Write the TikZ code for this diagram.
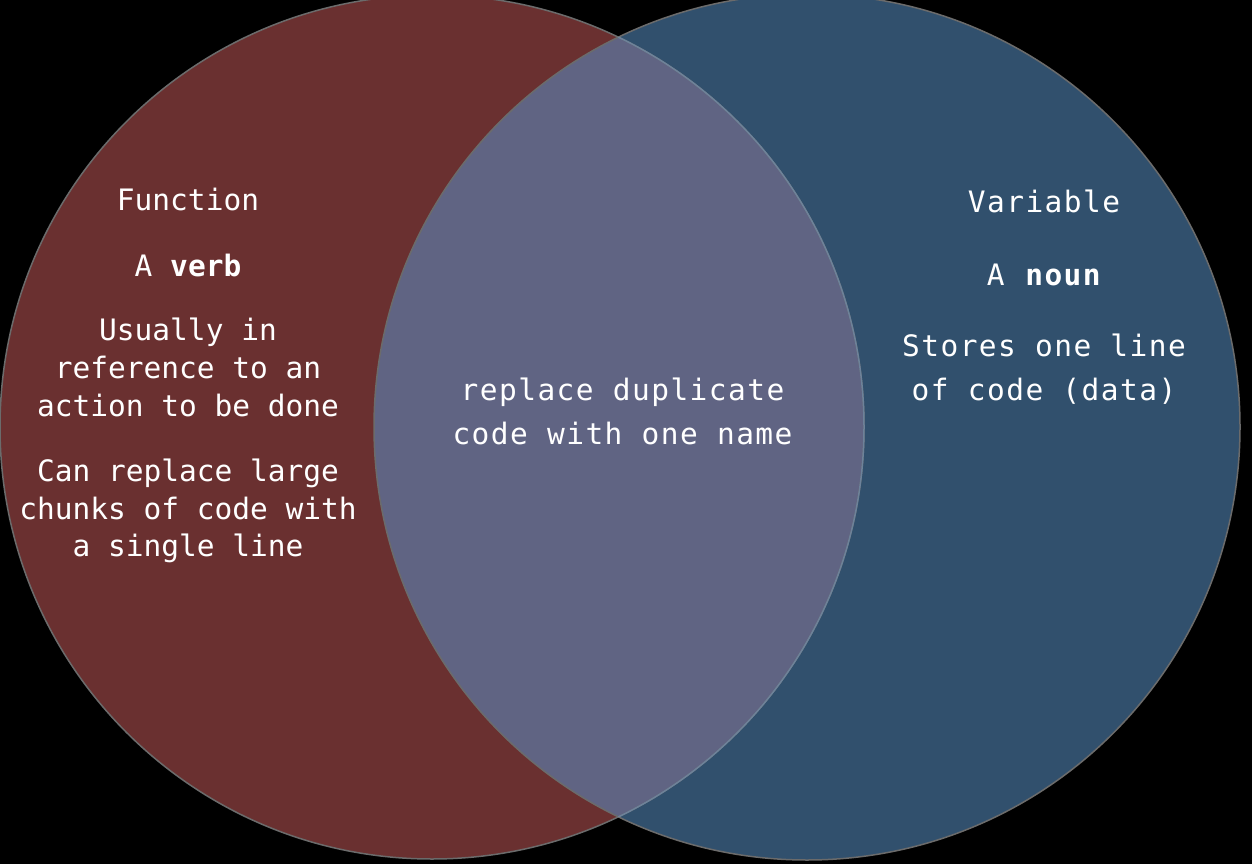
\documentclass[tikz,border=0pt]{standalone}
\usepackage{fontspec}
\newfontfamily\leftmono{DejaVu Sans Mono}
\newfontfamily\rightmono[LetterSpace=4.9]{DejaVu Sans Mono}
\definecolor{redfill}{HTML}{6A3030}
\definecolor{bluefill}{HTML}{31506D}
\definecolor{overlapfill}{HTML}{606483}
\definecolor{rimgray}{HTML}{6B6B6B}
\definecolor{rimblue}{HTML}{6E8CAE}
\begin{document}
\begin{tikzpicture}[x=1pt,y=-1pt,
  lefttext/.style={text=white,inner sep=0pt,anchor=base,align=center,
    font=\leftmono\fontsize{29.5}{37.7}\selectfont},
  righttext/.style={text=white,inner sep=0pt,anchor=base,align=center,
    font=\rightmono\fontsize{29.5}{44}\selectfont},
  midtext/.style={text=white,inner sep=0pt,anchor=base,align=center,
    font=\rightmono\fontsize{29.5}{43.3}\selectfont},
  rim/.style={line width=1.5pt}]
\fill[black] (0,0) rectangle (1252,864);
\useasboundingbox (0,0) rectangle (1252,864);
% circles
\coordinate (lc) at (432,427);
\coordinate (rc) at (807,427);
\fill[redfill] (lc) circle[radius=432pt];
\fill[bluefill] (rc) circle[radius=433pt];
\begin{scope}
  \clip (lc) circle[radius=432pt];
  \fill[overlapfill] (rc) circle[radius=433pt];
\end{scope}
\draw[rim,rimgray] (lc) circle[radius=432pt];
\draw[rim,rimgray] (rc) circle[radius=433pt];
\begin{scope}
  \clip (rc) circle[radius=433pt];
  \draw[rim,rimblue!70!rimgray] (lc) circle[radius=432pt];
\end{scope}
% left texts (multi-line nodes are anchored at the baseline of their last line)
\node[lefttext] (fn) at (188,210.7) {Function};
\node[lefttext] (verb) at (188,276) {A \textbf{verb}};
\node[lefttext] (usually) at (188,416.1) {Usually in\\reference to an\\action to be done};
\node[lefttext] (replace) at (188,556.7) {Can replace large\\chunks of code with\\a single line};
% middle
\node[midtext] (mid) at (622.5,444) {replace duplicate\\code with one name};
% right texts
\node[righttext] (var) at (1044,212.7) {Variable};
\node[righttext] (noun) at (1044.5,285) {A \textbf{noun}};
\node[righttext] (stores) at (1044,400.7) {Stores one line\\of code (data)};
\end{tikzpicture}
\end{document}
